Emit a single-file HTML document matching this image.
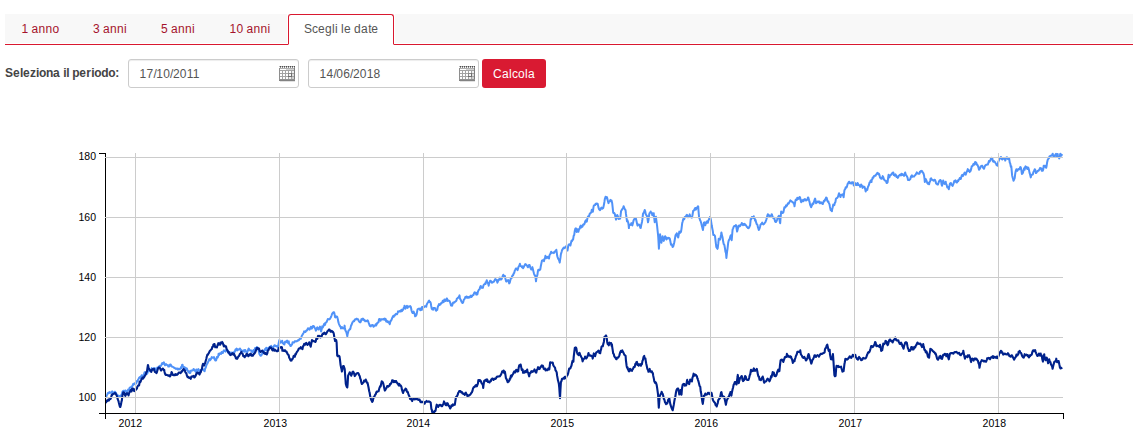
<!DOCTYPE html>
<html><head><meta charset="utf-8"><title>Grafico</title>
<style>
html,body{margin:0;padding:0;background:#fff;}
body{width:1138px;height:448px;position:relative;overflow:hidden;font-family:"Liberation Sans",sans-serif;font-size:12px;color:#555;}
i{font-style:normal;}
.tabs{position:absolute;left:5px;top:14px;width:1128px;height:29px;background:#f8f8f8;}
.tabline{position:absolute;left:5px;top:44px;width:1128px;height:1px;background:#d9182f;}
.tab{position:absolute;top:0;height:30px;line-height:30px;color:#a5132c;white-space:nowrap;}
.tab.active{box-sizing:border-box;width:106px;height:31px;background:#fff;border:1px solid #d9182f;border-bottom:none;border-radius:3px 3px 0 0;color:#555;padding:0 0 0 15px;line-height:28px;}
.tab.active:before{content:"";position:absolute;left:-2px;top:-1px;width:1px;height:30px;background:#fff;}
.tab.active:after{content:"";position:absolute;right:-2px;top:-1px;width:1px;height:30px;background:#fff;}
.lbl{position:absolute;left:5px;top:66px;font-weight:bold;color:#444;line-height:14px;white-space:nowrap;}
.inp{position:absolute;top:59px;height:27px;width:169px;border:1px solid #ccc;border-radius:3px;background:#fff;box-shadow:inset 0 1px 1px rgba(0,0,0,.075);}
.inp span{position:absolute;left:10.6px;top:7px;line-height:14px;color:#555;white-space:nowrap;}
.inp .cal{position:absolute;right:3px;top:6px;}
.btn{position:absolute;left:482px;top:59px;width:64px;height:29px;background:#d91a32;border-radius:3px;color:#fff;text-align:center;line-height:31px;white-space:nowrap;}
</style></head><body>
<div class="tabs">
<div class="tab" style="left:16.5px"><i style="letter-spacing:0.33px">1</i><i style="letter-spacing:-0.33px">&nbsp;</i><i style="letter-spacing:0.33px">a</i><i style="letter-spacing:0.33px">n</i><i style="letter-spacing:0.33px">n</i><i style="letter-spacing:0.33px">o</i></div>
<div class="tab" style="left:88px"><i style="letter-spacing:0.33px">3</i><i style="letter-spacing:-0.33px">&nbsp;</i><i style="letter-spacing:0.33px">a</i><i style="letter-spacing:0.33px">n</i><i style="letter-spacing:0.33px">n</i><i style="letter-spacing:0.33px">i</i></div>
<div class="tab" style="left:156px"><i style="letter-spacing:0.33px">5</i><i style="letter-spacing:-0.33px">&nbsp;</i><i style="letter-spacing:0.33px">a</i><i style="letter-spacing:0.33px">n</i><i style="letter-spacing:0.33px">n</i><i style="letter-spacing:0.33px">i</i></div>
<div class="tab" style="left:224.5px"><i style="letter-spacing:0.33px">1</i><i style="letter-spacing:0.33px">0</i><i style="letter-spacing:-0.33px">&nbsp;</i><i style="letter-spacing:0.33px">a</i><i style="letter-spacing:0.33px">n</i><i style="letter-spacing:0.33px">n</i><i style="letter-spacing:0.33px">i</i></div>
</div>
<div class="tabline"></div>
<div class="tab active" style="left:288px;top:14px">Sc<i style="letter-spacing:0.33px">e</i><i style="letter-spacing:0.33px">g</i><i style="letter-spacing:0.33px">l</i><i style="letter-spacing:0.33px">i</i><i style="letter-spacing:-0.33px">&nbsp;</i><i style="letter-spacing:0.33px">l</i><i style="letter-spacing:0.33px">e</i><i style="letter-spacing:-0.33px">&nbsp;</i><i style="letter-spacing:0.33px">d</i><i style="letter-spacing:0.33px">a</i><i style="letter-spacing:-0.33px">t</i><i style="letter-spacing:0.33px">e</i></div>
<div style="position:absolute;left:288px;top:44px;width:1px;height:1px;background:rgba(255,255,255,.5)"></div>
<div style="position:absolute;left:393px;top:44px;width:1px;height:1px;background:rgba(255,255,255,.5)"></div>
<div class="lbl">S<i style="letter-spacing:0.33px">e</i><i style="letter-spacing:-0.33px">l</i><i style="letter-spacing:0.33px">e</i>z<i style="letter-spacing:-0.33px">i</i><i style="letter-spacing:-0.33px">o</i><i style="letter-spacing:-0.33px">n</i><i style="letter-spacing:0.33px">a</i><i style="letter-spacing:-0.33px">&nbsp;</i><i style="letter-spacing:-0.33px">i</i><i style="letter-spacing:-0.33px">l</i><i style="letter-spacing:-0.33px">&nbsp;</i><i style="letter-spacing:-0.33px">p</i><i style="letter-spacing:0.33px">e</i><i style="letter-spacing:0.33px">r</i><i style="letter-spacing:-0.33px">i</i><i style="letter-spacing:-0.33px">o</i><i style="letter-spacing:-0.33px">d</i><i style="letter-spacing:-0.33px">o</i>:</div>
<div class="inp" style="left:128px"><span><i style="letter-spacing:0.21px">1</i><i style="letter-spacing:0.21px">7</i><i style="letter-spacing:-0.45px">/</i><i style="letter-spacing:0.21px">1</i><i style="letter-spacing:0.21px">0</i><i style="letter-spacing:-0.45px">/</i><i style="letter-spacing:0.21px">2</i><i style="letter-spacing:0.21px">0</i><i style="letter-spacing:0.21px">1</i><i style="letter-spacing:0.21px">1</i></span><svg class="cal" width="16" height="16" viewBox="0 0 16 16" shape-rendering="crispEdges"><rect x="0" y="1" width="16" height="13" fill="#a4a4a4"/><rect x="0" y="1" width="1" height="13" fill="#8e8e8e"/><rect x="15" y="1" width="1" height="13" fill="#7e7e7e"/><rect x="0" y="0" width="1" height="1" fill="#b8b8b8"/><rect x="1" y="0" width="1" height="1" fill="#505050"/><rect x="2" y="0" width="1" height="1" fill="#b8b8b8"/><rect x="3" y="0" width="1" height="1" fill="#505050"/><rect x="4" y="0" width="1" height="1" fill="#b8b8b8"/><rect x="5" y="0" width="1" height="1" fill="#505050"/><rect x="6" y="0" width="1" height="1" fill="#b8b8b8"/><rect x="7" y="0" width="1" height="1" fill="#505050"/><rect x="8" y="0" width="1" height="1" fill="#b8b8b8"/><rect x="9" y="0" width="1" height="1" fill="#505050"/><rect x="10" y="0" width="1" height="1" fill="#b8b8b8"/><rect x="11" y="0" width="1" height="1" fill="#505050"/><rect x="12" y="0" width="1" height="1" fill="#b8b8b8"/><rect x="13" y="0" width="1" height="1" fill="#505050"/><rect x="14" y="0" width="1" height="1" fill="#b8b8b8"/><rect x="15" y="0" width="1" height="1" fill="#505050"/><rect x="0" y="1" width="16" height="1" fill="#8c8c8c"/><rect x="0" y="1" width="1" height="1" fill="#fafafa"/><rect x="2" y="1" width="1" height="1" fill="#fafafa"/><rect x="4" y="1" width="1" height="1" fill="#fafafa"/><rect x="6" y="1" width="1" height="1" fill="#fafafa"/><rect x="8" y="1" width="1" height="1" fill="#fafafa"/><rect x="10" y="1" width="1" height="1" fill="#fafafa"/><rect x="12" y="1" width="1" height="1" fill="#fafafa"/><rect x="14" y="1" width="1" height="1" fill="#fafafa"/><rect x="1" y="2" width="14" height="1" fill="#b0b0b0"/><rect x="1" y="3" width="6" height="1" fill="#ffffff"/><rect x="7" y="3" width="8" height="1" fill="#d2d2d2"/><rect x="1" y="5" width="2" height="2" fill="#ffffff"/><rect x="4" y="5" width="2" height="2" fill="#ffffff"/><rect x="7" y="5" width="2" height="2" fill="#ffffff"/><rect x="10" y="5" width="2" height="2" fill="#ffffff"/><rect x="13" y="5" width="2" height="2" fill="#f0f0f0"/><rect x="1" y="8" width="2" height="2" fill="#ffffff"/><rect x="4" y="8" width="2" height="2" fill="#ffffff"/><rect x="7" y="8" width="2" height="2" fill="#ffffff"/><rect x="10" y="8" width="2" height="2" fill="#ffffff"/><rect x="13" y="8" width="2" height="2" fill="#dedede"/><rect x="1" y="11" width="2" height="2" fill="#ffffff"/><rect x="4" y="11" width="2" height="2" fill="#ffffff"/><rect x="7" y="11" width="2" height="2" fill="#ffffff"/><rect x="10" y="11" width="2" height="2" fill="#ededed"/><rect x="13" y="11" width="2" height="2" fill="#cfcfcf"/><rect x="9" y="7" width="4" height="4" fill="#8c8c8c"/><rect x="12" y="7" width="1" height="4" fill="#6f6f6f"/><rect x="9" y="10" width="4" height="1" fill="#6f6f6f"/><rect x="10" y="8" width="2" height="2" fill="#f6f6f6"/><rect x="0" y="13" width="16" height="1" fill="#909090"/><rect x="0" y="14" width="16" height="1" fill="#6c6c6c" opacity="0.85"/><rect x="1" y="15" width="15" height="1" fill="#9a9a9a" opacity="0.3"/></svg></div>
<div class="inp" style="left:308px"><span><i style="letter-spacing:0.21px">1</i><i style="letter-spacing:0.21px">4</i><i style="letter-spacing:-0.45px">/</i><i style="letter-spacing:0.21px">0</i><i style="letter-spacing:0.21px">6</i><i style="letter-spacing:-0.45px">/</i><i style="letter-spacing:0.21px">2</i><i style="letter-spacing:0.21px">0</i><i style="letter-spacing:0.21px">1</i><i style="letter-spacing:0.21px">8</i></span><svg class="cal" width="16" height="16" viewBox="0 0 16 16" shape-rendering="crispEdges"><rect x="0" y="1" width="16" height="13" fill="#a4a4a4"/><rect x="0" y="1" width="1" height="13" fill="#8e8e8e"/><rect x="15" y="1" width="1" height="13" fill="#7e7e7e"/><rect x="0" y="0" width="1" height="1" fill="#b8b8b8"/><rect x="1" y="0" width="1" height="1" fill="#505050"/><rect x="2" y="0" width="1" height="1" fill="#b8b8b8"/><rect x="3" y="0" width="1" height="1" fill="#505050"/><rect x="4" y="0" width="1" height="1" fill="#b8b8b8"/><rect x="5" y="0" width="1" height="1" fill="#505050"/><rect x="6" y="0" width="1" height="1" fill="#b8b8b8"/><rect x="7" y="0" width="1" height="1" fill="#505050"/><rect x="8" y="0" width="1" height="1" fill="#b8b8b8"/><rect x="9" y="0" width="1" height="1" fill="#505050"/><rect x="10" y="0" width="1" height="1" fill="#b8b8b8"/><rect x="11" y="0" width="1" height="1" fill="#505050"/><rect x="12" y="0" width="1" height="1" fill="#b8b8b8"/><rect x="13" y="0" width="1" height="1" fill="#505050"/><rect x="14" y="0" width="1" height="1" fill="#b8b8b8"/><rect x="15" y="0" width="1" height="1" fill="#505050"/><rect x="0" y="1" width="16" height="1" fill="#8c8c8c"/><rect x="0" y="1" width="1" height="1" fill="#fafafa"/><rect x="2" y="1" width="1" height="1" fill="#fafafa"/><rect x="4" y="1" width="1" height="1" fill="#fafafa"/><rect x="6" y="1" width="1" height="1" fill="#fafafa"/><rect x="8" y="1" width="1" height="1" fill="#fafafa"/><rect x="10" y="1" width="1" height="1" fill="#fafafa"/><rect x="12" y="1" width="1" height="1" fill="#fafafa"/><rect x="14" y="1" width="1" height="1" fill="#fafafa"/><rect x="1" y="2" width="14" height="1" fill="#b0b0b0"/><rect x="1" y="3" width="6" height="1" fill="#ffffff"/><rect x="7" y="3" width="8" height="1" fill="#d2d2d2"/><rect x="1" y="5" width="2" height="2" fill="#ffffff"/><rect x="4" y="5" width="2" height="2" fill="#ffffff"/><rect x="7" y="5" width="2" height="2" fill="#ffffff"/><rect x="10" y="5" width="2" height="2" fill="#ffffff"/><rect x="13" y="5" width="2" height="2" fill="#f0f0f0"/><rect x="1" y="8" width="2" height="2" fill="#ffffff"/><rect x="4" y="8" width="2" height="2" fill="#ffffff"/><rect x="7" y="8" width="2" height="2" fill="#ffffff"/><rect x="10" y="8" width="2" height="2" fill="#ffffff"/><rect x="13" y="8" width="2" height="2" fill="#dedede"/><rect x="1" y="11" width="2" height="2" fill="#ffffff"/><rect x="4" y="11" width="2" height="2" fill="#ffffff"/><rect x="7" y="11" width="2" height="2" fill="#ffffff"/><rect x="10" y="11" width="2" height="2" fill="#ededed"/><rect x="13" y="11" width="2" height="2" fill="#cfcfcf"/><rect x="9" y="7" width="4" height="4" fill="#8c8c8c"/><rect x="12" y="7" width="1" height="4" fill="#6f6f6f"/><rect x="9" y="10" width="4" height="1" fill="#6f6f6f"/><rect x="10" y="8" width="2" height="2" fill="#f6f6f6"/><rect x="0" y="13" width="16" height="1" fill="#909090"/><rect x="0" y="14" width="16" height="1" fill="#6c6c6c" opacity="0.85"/><rect x="1" y="15" width="15" height="1" fill="#9a9a9a" opacity="0.3"/></svg></div>
<div class="btn"><i style="letter-spacing:0.33px">C</i><i style="letter-spacing:0.33px">a</i><i style="letter-spacing:0.33px">l</i>c<i style="letter-spacing:0.33px">o</i><i style="letter-spacing:0.33px">l</i><i style="letter-spacing:0.33px">a</i></div>
<svg width="1138" height="448" viewBox="0 0 1138 448" style="position:absolute;left:0;top:0">
<path d="M105.60,397.40L106.15,396.81L106.70,395.53L107.30,394.34L107.80,393.13L108.35,392.73L108.90,393.10L109.50,392.16L110.00,392.78L110.55,392.56L111.20,392.78L111.65,392.70L112.20,391.37L112.75,392.87L113.30,393.21L114.00,393.44L114.40,392.02L114.95,391.69L115.50,392.39L116.20,393.21L116.60,394.57L117.30,395.65L117.70,396.14L118.25,395.52L118.80,396.08L119.35,396.40L120.10,395.82L120.45,396.74L121.00,395.43L121.55,394.81L122.30,392.25L122.65,391.40L123.20,390.99L123.75,390.70L124.00,391.09L124.30,391.14L124.85,390.81L125.40,390.45L125.95,390.80L126.50,392.36L126.80,391.43L127.05,391.60L127.60,391.34L128.15,389.45L128.70,389.59L129.25,390.22L129.60,387.79L130.35,387.59L130.90,387.39L131.45,386.43L131.80,386.92L132.55,385.78L133.10,383.94L133.50,384.74L134.20,383.68L134.60,383.21L135.30,383.95L135.85,383.50L136.30,383.26L136.95,381.05L137.50,381.21L138.05,379.79L138.50,379.02L139.15,377.73L139.70,377.18L140.25,376.96L140.70,377.99L141.35,375.71L141.90,375.18L142.45,376.10L143.00,377.16L143.55,376.38L144.10,373.88L144.60,372.21L145.20,374.14L145.75,374.10L146.30,373.90L146.85,373.92L147.40,373.10L148.00,371.05L148.50,370.69L149.05,370.52L149.60,371.15L150.20,370.44L150.70,370.09L151.25,369.89L151.80,368.14L152.50,369.53L152.90,369.95L153.45,369.88L154.00,368.08L154.70,368.60L155.10,369.93L155.65,368.53L156.40,369.43L156.75,369.95L157.30,367.64L158.00,368.13L158.40,367.56L158.95,366.45L159.70,365.89L160.00,366.79L160.60,365.76L161.15,365.75L161.70,363.95L162.20,363.13L162.80,363.94L163.35,363.34L163.90,362.33L164.45,363.96L165.00,365.28L165.55,364.66L166.10,364.10L166.65,364.77L167.20,365.07L167.75,365.14L168.30,366.51L168.90,365.26L169.40,366.36L169.95,364.75L170.50,364.46L171.20,365.28L171.60,366.32L172.15,366.80L172.70,366.86L173.40,367.12L173.80,367.33L174.35,368.04L174.90,368.01L175.60,368.72L176.00,368.90L176.55,368.43L177.10,368.74L177.65,368.61L177.90,369.63L178.20,369.07L178.75,368.78L179.50,369.31L179.85,368.91L180.40,368.77L180.95,367.19L181.20,367.08L181.50,368.14L182.05,364.99L182.60,364.81L182.90,365.72L183.15,366.42L183.70,366.94L184.25,366.93L184.80,368.05L185.10,368.25L185.35,367.72L185.90,369.91L186.45,369.25L186.80,368.39L187.55,370.11L188.10,371.27L188.50,372.28L189.20,371.39L189.60,373.00L190.30,372.99L190.85,370.70L191.20,370.39L191.95,370.56L192.50,370.25L192.90,370.42L193.60,368.92L194.15,369.71L194.60,370.26L195.25,371.19L195.80,371.96L196.35,369.49L196.80,371.53L197.45,369.87L198.00,370.68L198.50,369.14L199.10,370.14L199.65,371.35L200.20,370.87L200.75,370.35L201.30,370.27L201.85,369.39L202.40,368.55L202.95,370.02L203.50,370.41L204.10,369.80L204.60,371.23L205.20,368.38L205.70,367.82L206.25,365.75L206.90,364.11L207.35,363.64L207.90,362.30L208.50,361.31L209.00,359.64L209.55,358.97L210.10,360.23L210.80,359.36L211.20,358.41L211.75,357.07L212.50,357.74L212.85,357.66L213.60,357.55L213.95,357.06L214.50,358.93L215.20,360.32L215.60,360.55L216.15,360.31L216.90,357.08L217.25,357.94L217.80,357.26L218.35,355.68L218.60,353.71L218.90,355.37L219.45,354.38L220.00,353.29L220.55,353.31L220.80,353.26L221.10,353.94L221.65,351.97L222.20,352.65L222.50,353.07L222.75,353.09L223.30,351.53L223.85,350.31L224.40,350.94L224.70,350.40L224.95,350.42L225.50,351.62L226.05,350.95L226.60,349.36L227.00,350.33L227.70,350.25L228.25,352.55L228.60,353.15L229.35,352.37L229.90,352.48L230.45,353.08L231.00,352.65L231.40,353.39L232.10,352.45L232.65,352.87L233.20,353.26L233.70,353.41L234.30,351.49L234.85,351.82L235.40,349.69L235.90,349.38L236.50,348.56L237.05,350.48L237.60,349.34L238.10,349.78L238.70,349.50L239.25,349.32L240.00,348.52L240.35,349.20L240.90,350.84L241.45,350.30L242.20,350.77L242.55,351.38L243.10,350.97L243.65,350.26L243.90,350.58L244.20,351.75L244.75,349.96L245.30,349.99L245.60,351.17L245.85,351.62L246.40,351.49L246.95,352.27L247.30,352.17L248.05,350.01L248.60,348.58L248.90,348.62L249.15,350.20L249.70,350.10L250.25,350.17L250.60,350.45L251.35,350.56L251.90,351.93L252.30,351.81L253.00,352.13L253.55,349.92L254.00,350.91L254.65,349.75L255.20,347.90L255.60,348.96L256.30,348.63L256.85,346.98L257.40,347.34L257.90,348.27L258.50,349.95L259.05,352.53L259.50,354.21L260.15,355.25L260.60,355.71L261.25,355.50L261.80,354.48L262.30,353.56L262.90,350.79L263.45,351.62L264.00,351.75L264.55,350.13L265.10,348.98L265.70,349.85L266.20,347.81L266.75,348.88L267.30,350.84L267.85,348.24L268.40,348.08L269.00,348.39L269.50,346.94L270.05,346.70L270.70,346.58L271.15,345.91L271.70,346.80L272.40,348.05L272.80,348.15L273.35,347.10L274.00,346.13L274.45,345.28L275.00,345.36L275.70,346.18L276.10,346.34L276.65,346.10L277.40,346.57L277.75,347.71L278.30,345.25L278.80,342.79L279.40,339.94L279.95,341.21L280.20,341.53L280.50,342.68L281.05,342.30L281.60,341.92L281.90,342.27L282.15,340.77L282.70,342.97L283.25,343.59L283.50,343.10L283.80,344.14L284.35,344.56L284.90,342.04L285.20,341.63L285.45,342.16L286.00,342.03L286.55,341.37L287.10,340.53L287.40,342.50L287.65,342.68L288.20,341.54L288.75,341.38L289.10,343.77L289.85,344.70L290.40,345.93L290.95,345.96L291.30,344.87L292.05,344.51L292.60,342.30L293.00,342.39L293.70,342.37L294.25,342.49L294.70,341.34L295.35,341.22L295.90,341.45L296.45,341.30L296.90,341.31L297.55,340.76L298.10,340.01L298.65,340.42L299.20,339.83L299.75,338.85L300.30,338.53L300.80,338.77L301.40,336.98L301.90,335.66L302.50,334.67L303.05,333.91L303.60,332.85L304.15,331.39L304.70,331.78L305.30,331.98L305.80,331.48L306.35,330.59L307.00,330.46L307.45,329.38L308.00,328.20L308.55,329.15L309.20,328.62L309.65,329.61L310.20,328.48L310.90,326.77L311.30,327.02L311.85,328.63L312.50,327.24L312.95,326.09L313.50,326.01L314.20,326.76L314.60,327.75L315.15,328.54L315.90,330.71L316.25,329.77L316.80,328.07L317.35,327.24L317.60,327.64L317.90,328.19L318.45,329.56L318.70,328.61L319.00,328.22L319.55,327.96L320.00,326.64L320.65,329.84L321.10,331.42L321.75,328.97L322.20,326.37L322.85,327.33L323.40,326.27L323.90,324.41L324.50,323.61L325.05,324.87L325.60,322.75L326.15,322.40L326.70,321.90L327.30,320.46L327.80,319.01L328.35,319.26L328.90,319.23L329.45,319.38L330.00,318.81L330.60,317.64L331.10,316.76L331.65,315.24L332.10,313.79L332.75,313.00L333.30,312.21L334.00,312.17L334.40,313.33L335.10,317.21L335.50,317.51L336.05,316.36L336.70,316.56L337.15,316.77L337.90,319.47L338.25,321.62L338.80,323.57L339.50,325.21L339.90,325.98L340.60,326.79L341.00,328.52L341.55,327.76L341.80,327.88L342.10,327.11L342.65,328.26L343.20,328.15L343.75,328.58L344.30,328.13L344.60,325.63L344.85,327.43L345.40,330.56L345.90,331.19L346.50,332.75L347.05,335.08L347.30,336.43L347.60,334.33L348.15,332.19L348.50,330.72L349.25,329.87L349.80,329.12L350.10,329.27L350.35,328.84L350.90,326.07L351.45,325.12L351.80,324.11L352.55,322.23L353.10,321.65L353.50,321.04L354.20,321.27L354.75,319.68L355.20,319.29L355.85,319.48L356.40,319.08L356.80,318.66L357.50,319.29L358.05,319.18L358.50,320.41L359.15,321.54L359.70,322.14L360.20,322.42L360.80,321.79L361.35,319.20L361.90,319.11L362.45,319.73L363.00,318.54L363.50,319.19L364.10,320.32L364.65,320.02L365.20,321.25L365.75,320.95L366.30,321.15L366.85,321.05L367.40,320.26L367.95,320.78L368.50,322.31L369.10,323.84L369.60,325.32L370.15,326.12L370.80,326.40L371.25,325.35L371.80,325.47L372.50,324.91L372.90,325.17L373.60,326.82L374.00,326.22L374.55,325.89L375.20,325.45L375.65,324.33L376.20,325.48L376.90,323.25L377.30,323.45L377.85,322.37L378.60,322.19L378.95,319.31L379.50,318.97L380.05,319.14L380.30,319.39L380.60,320.68L381.15,319.32L381.90,319.18L382.25,319.15L382.80,319.55L383.35,319.59L383.60,319.15L383.90,319.50L384.45,318.54L385.00,319.97L385.55,318.91L385.80,319.50L386.10,321.39L386.65,320.74L387.20,321.05L387.50,322.13L387.75,321.78L388.30,321.48L388.85,322.51L389.40,323.46L389.80,324.09L390.50,320.87L391.05,320.69L391.40,320.07L392.15,318.03L392.70,317.13L393.10,316.02L393.80,316.75L394.35,315.21L394.80,315.54L395.45,314.47L396.00,313.73L396.50,314.33L397.10,314.25L397.65,312.73L398.10,311.33L398.75,311.80L399.30,311.14L400.00,310.88L400.40,311.57L400.95,311.25L401.50,309.66L402.05,311.15L402.60,309.84L403.00,309.90L403.70,307.96L404.25,307.33L404.50,305.75L404.80,308.07L405.35,308.71L406.00,307.15L406.45,306.31L407.00,305.93L407.50,307.90L408.10,306.96L408.65,306.70L409.00,306.32L409.75,306.65L410.30,306.12L410.60,306.81L410.85,306.94L411.60,310.73L411.95,311.79L412.60,313.07L413.05,312.43L413.60,311.51L414.15,313.18L414.70,313.99L415.10,316.23L415.80,315.90L416.35,315.02L416.60,314.43L416.90,312.73L417.60,309.28L418.00,309.05L418.55,308.89L419.10,308.49L419.65,308.85L420.20,310.24L420.60,308.69L421.30,308.18L421.85,309.88L422.10,306.94L422.40,306.88L422.95,307.23L423.60,307.18L424.05,307.14L424.60,306.37L425.10,306.35L425.70,306.23L426.25,306.72L426.60,304.90L427.35,303.27L428.10,302.22L428.45,301.34L429.10,300.50L429.55,301.97L430.10,301.77L430.70,302.92L431.20,306.02L431.70,308.56L432.30,309.34L433.00,309.71L433.40,308.08L433.95,308.03L434.20,308.31L434.50,307.93L435.20,308.41L435.60,310.14L436.20,310.72L436.70,310.14L437.25,309.84L437.70,307.21L438.35,305.75L439.00,304.04L439.45,305.05L440.20,304.23L440.55,304.38L441.10,303.10L441.70,303.02L442.20,302.56L442.75,300.71L443.20,302.21L443.85,301.84L444.40,299.40L444.70,300.31L444.95,300.20L445.70,300.93L446.05,300.59L446.60,298.57L447.00,298.60L447.70,300.92L448.20,300.50L448.80,300.60L449.35,300.83L449.70,301.23L450.45,303.31L451.00,305.41L451.30,305.34L451.55,304.79L452.10,305.63L452.80,303.35L453.20,302.42L453.75,302.72L454.30,302.60L454.85,301.79L455.30,301.52L455.95,301.14L456.50,300.33L456.80,298.67L457.05,298.79L457.60,297.96L458.30,297.74L458.70,296.90L459.25,295.94L459.50,295.31L459.80,297.21L460.35,299.50L460.80,299.77L461.45,301.81L462.00,302.08L462.30,303.04L462.55,303.06L463.10,302.56L463.80,299.78L464.20,299.21L464.75,298.80L465.30,297.03L465.85,297.19L466.30,296.47L466.95,297.81L467.50,297.47L467.80,296.83L468.05,297.76L468.60,297.79L469.30,296.68L469.70,297.37L470.25,296.48L470.90,295.64L471.35,296.97L471.90,296.49L472.45,295.60L473.00,295.07L473.40,295.12L474.10,293.20L474.60,292.35L475.20,292.39L475.90,293.69L476.30,294.61L476.85,292.90L477.40,294.35L477.95,291.59L478.50,290.39L478.90,289.65L479.60,289.37L480.00,287.36L480.70,285.96L481.25,287.39L482.00,287.84L482.35,287.28L482.90,287.77L483.40,285.52L484.00,284.51L484.55,284.33L485.10,283.48L485.40,284.05L485.65,282.25L486.20,282.41L486.75,280.27L487.40,282.85L487.85,283.04L488.40,284.29L488.70,285.71L488.95,284.05L489.50,282.39L490.10,280.84L490.60,280.79L491.15,281.20L491.70,282.54L492.10,282.71L492.80,282.31L493.40,281.80L493.90,281.73L494.45,280.77L495.00,279.36L495.40,279.13L496.10,279.83L496.65,279.82L497.40,282.70L497.75,281.95L498.30,279.92L498.85,280.14L499.40,279.08L499.95,277.60L500.50,279.46L501.05,279.15L501.40,279.46L502.15,277.60L502.80,275.95L503.25,274.75L503.80,276.23L504.35,276.04L504.80,275.73L505.45,278.75L506.10,281.33L506.55,281.56L507.10,280.69L507.50,280.54L508.20,280.05L508.75,281.63L509.20,283.40L509.85,282.40L510.40,279.85L510.80,278.54L511.50,278.33L512.05,276.20L512.80,275.11L513.15,275.32L513.70,273.37L514.20,273.01L514.80,270.56L515.35,269.71L515.90,268.48L516.45,268.41L517.00,269.04L517.55,270.10L518.20,268.04L518.65,266.58L519.20,266.11L519.90,263.80L520.30,265.13L520.85,266.16L521.50,266.46L521.95,267.31L522.50,266.42L523.05,268.19L523.60,267.41L524.15,266.31L524.70,265.18L525.25,264.07L525.60,264.25L526.35,265.03L526.90,265.33L527.60,266.83L528.00,267.26L528.55,265.68L529.10,264.91L529.60,264.88L530.20,267.33L530.70,268.44L531.30,269.56L532.00,268.72L532.40,267.14L532.95,269.43L533.60,272.12L534.05,273.84L534.60,275.22L534.90,275.27L535.15,275.66L535.70,278.94L536.00,281.31L536.25,279.07L536.80,276.54L537.40,274.84L537.90,271.01L538.30,269.75L539.00,269.67L539.55,270.19L540.30,269.32L540.65,267.07L541.20,264.32L541.90,260.86L542.30,260.23L542.85,260.22L543.40,260.51L543.70,260.86L543.95,261.16L544.50,258.85L545.05,257.89L545.40,255.83L546.15,258.21L546.70,256.94L547.00,256.97L547.25,257.62L547.80,256.76L548.35,258.08L549.00,258.49L549.45,255.39L550.00,254.38L550.40,253.90L551.10,251.74L551.65,252.88L552.40,252.63L552.75,252.73L553.30,252.61L553.85,253.11L554.40,252.03L555.00,251.84L555.50,250.70L556.05,250.90L556.30,249.77L556.60,251.44L557.15,255.60L557.50,256.86L558.25,258.87L558.70,259.49L559.35,261.05L559.70,262.64L560.45,257.70L560.90,254.15L561.55,252.11L562.10,249.95L562.50,249.57L563.20,248.25L563.75,247.53L564.20,248.23L564.85,247.63L565.40,247.01L565.90,246.42L566.50,247.78L567.05,249.61L567.50,250.58L568.15,246.29L568.70,244.45L569.25,244.81L569.80,244.22L570.40,245.54L570.90,243.18L571.45,240.88L571.70,240.70L572.00,241.17L572.55,239.54L573.10,239.59L573.65,235.84L574.20,235.04L574.75,230.96L575.40,228.56L575.85,228.31L576.40,230.08L576.70,231.96L576.95,229.09L577.50,230.13L578.05,231.56L578.40,231.77L579.15,228.73L579.70,228.80L580.10,226.56L580.80,225.62L581.35,227.45L581.80,226.41L582.45,226.70L583.00,224.85L583.40,224.31L584.10,224.55L584.65,223.47L585.10,221.70L585.75,220.36L586.30,221.73L586.80,221.57L587.40,218.22L588.10,216.41L588.50,216.26L589.05,216.13L589.80,213.64L590.15,213.37L590.70,212.97L591.00,212.40L591.25,212.48L591.80,209.77L592.35,210.62L592.60,211.13L592.90,211.64L593.45,207.34L593.80,205.65L594.55,204.99L595.10,205.07L595.65,203.69L596.00,204.22L596.75,203.45L597.30,204.11L597.70,203.84L598.40,207.12L598.95,208.91L599.30,209.52L600.05,210.11L600.60,209.30L601.15,207.83L601.50,207.65L602.25,208.71L602.80,207.74L603.20,208.15L603.90,204.69L604.45,201.72L604.80,199.13L605.55,196.81L606.10,198.21L606.65,197.64L606.90,197.14L607.20,198.04L607.75,200.54L608.50,203.13L608.85,202.02L609.40,201.22L609.95,200.52L610.20,200.18L610.50,199.92L611.05,201.38L611.60,200.61L611.90,201.86L612.15,202.92L612.70,207.87L613.20,212.74L613.80,213.13L614.35,213.09L614.90,214.21L615.45,217.40L616.10,219.63L616.55,217.63L617.20,214.91L617.65,215.74L618.20,217.37L618.60,218.92L619.30,218.81L619.85,218.72L620.20,218.37L621.10,210.95L621.50,210.38L622.05,209.44L622.60,208.61L623.15,207.95L623.60,206.22L624.25,207.94L624.80,209.31L625.35,209.66L625.60,210.59L625.90,213.43L626.60,218.37L627.00,221.35L627.55,220.31L627.80,221.95L628.10,221.93L628.65,225.40L628.90,228.05L629.20,224.54L629.75,224.84L630.30,224.88L630.60,224.17L630.85,224.79L631.40,223.12L631.95,225.03L632.30,225.41L633.05,222.67L633.60,220.27L634.00,219.64L634.70,218.42L635.00,218.48L635.25,218.53L635.80,218.13L636.30,220.24L636.90,222.92L637.50,225.64L638.00,224.40L638.55,224.42L639.20,224.70L639.65,225.49L640.40,227.82L640.75,227.91L641.30,224.85L642.00,221.95L642.40,219.21L643.00,213.79L643.50,212.97L644.05,212.05L644.70,209.99L645.15,211.06L645.70,213.98L646.40,215.38L646.80,215.61L647.35,217.58L648.00,222.32L648.45,220.33L649.20,214.36L649.55,213.20L650.10,212.88L650.65,211.51L650.90,212.49L651.20,212.52L651.75,212.66L652.30,215.22L652.60,214.92L652.85,214.82L653.40,213.89L653.70,213.17L653.95,215.86L654.70,222.14L655.05,219.83L655.60,217.25L655.90,216.68L656.15,218.79L656.70,222.97L657.10,225.79L657.80,232.72L658.10,235.32L658.35,239.05L658.90,248.69L659.45,241.01L660.10,234.33L660.55,237.82L661.10,241.38L661.40,242.76L661.65,241.19L662.20,238.90L662.60,236.24L663.30,239.09L663.80,240.86L664.40,238.24L665.10,236.22L665.50,236.63L666.05,238.54L666.40,239.50L667.15,237.86L667.70,238.47L668.10,238.42L668.80,237.76L669.35,238.09L669.80,238.80L670.45,241.83L671.00,244.75L671.55,244.16L672.10,245.18L672.60,247.01L673.20,246.53L673.75,244.53L674.30,242.22L674.85,239.20L675.50,235.35L675.95,234.26L676.50,234.90L676.80,233.32L677.05,233.90L677.60,236.53L678.20,237.45L678.70,234.85L679.30,231.61L679.80,231.80L680.35,232.61L681.00,231.92L681.45,229.12L682.20,223.12L682.55,222.04L683.10,219.74L683.50,218.74L684.20,219.16L684.75,217.12L685.20,217.31L685.85,216.72L686.40,215.43L686.90,214.73L687.50,215.86L688.05,217.34L688.50,216.95L689.15,216.21L689.70,214.39L690.20,216.21L690.80,216.71L691.35,217.46L691.90,217.61L692.45,215.25L693.20,210.77L693.55,210.75L694.10,210.21L694.65,209.00L694.90,208.65L695.20,207.99L695.75,209.68L696.30,208.88L696.60,207.77L696.85,208.22L697.40,207.30L697.95,206.31L698.20,206.37L698.50,210.80L699.10,217.51L699.60,218.55L700.15,220.52L700.60,220.94L701.25,223.18L701.90,226.06L702.35,227.76L702.90,230.05L703.45,226.51L703.90,222.72L704.55,222.37L705.30,225.27L705.65,223.91L706.20,223.24L706.60,221.40L707.30,221.40L707.85,222.76L708.30,220.68L708.95,219.33L709.50,218.32L709.90,217.02L710.60,218.55L711.10,221.30L711.70,225.30L712.30,228.47L712.80,230.92L713.30,234.97L713.90,234.79L714.45,235.21L715.00,236.07L715.55,240.94L716.30,247.02L716.65,247.57L717.20,248.28L717.50,248.85L717.75,247.89L718.30,243.42L718.70,238.82L719.40,239.39L720.00,239.67L720.50,237.40L721.05,234.63L721.40,232.39L722.15,236.12L722.50,237.07L723.25,242.04L723.70,244.05L724.35,244.89L725.00,248.50L725.45,251.61L726.00,253.17L726.40,257.90L727.10,251.49L727.50,248.78L728.20,242.73L728.70,240.51L729.30,239.60L729.70,238.80L730.40,236.28L730.90,235.17L731.70,240.18L732.05,235.89L732.60,229.53L733.15,228.35L733.70,226.78L734.20,226.00L734.80,226.02L735.35,225.76L735.90,225.03L736.45,227.52L737.10,231.54L737.55,230.03L738.10,227.50L738.40,225.88L738.65,226.99L739.20,225.52L739.75,225.75L740.10,226.13L740.85,224.56L741.40,224.55L741.80,222.90L742.50,224.75L743.05,225.09L743.40,224.03L744.15,224.87L744.70,223.86L745.10,225.04L745.80,225.08L746.35,225.93L746.80,226.94L747.45,227.25L748.00,228.12L748.50,228.13L749.10,227.60L749.65,226.19L750.10,225.31L750.75,218.92L751.00,219.47L751.30,219.07L751.85,217.09L752.60,217.21L752.95,217.58L753.50,217.88L753.80,216.30L754.05,218.15L754.60,218.20L755.15,220.66L755.50,219.85L756.25,222.89L756.80,224.27L757.35,224.61L757.90,227.14L758.45,228.63L758.80,229.96L759.55,228.55L760.10,226.56L760.50,224.74L761.20,224.04L761.75,223.33L762.20,222.60L762.85,223.95L763.40,224.39L763.80,224.20L764.50,223.36L765.05,222.39L765.50,221.93L766.15,220.09L766.90,217.73L767.25,216.07L767.80,214.20L768.50,214.95L768.90,215.20L769.45,216.64L770.20,215.90L770.55,215.89L771.10,215.72L771.65,214.21L771.90,214.31L772.20,215.69L772.75,216.91L773.50,218.31L773.85,217.71L774.40,218.34L774.90,220.91L775.50,221.93L776.05,221.90L776.60,220.96L777.15,219.59L777.70,217.50L778.25,217.05L778.90,215.77L779.35,218.71L779.90,222.40L780.20,223.31L780.45,219.10L781.20,211.44L781.55,212.12L782.10,212.19L782.65,213.02L783.30,212.41L783.75,210.43L784.40,207.33L784.85,207.27L785.40,207.44L786.10,205.37L786.50,206.12L787.05,205.37L787.80,203.69L788.15,203.18L788.70,203.68L789.40,202.13L789.80,201.53L790.35,200.37L790.90,200.90L791.60,201.44L792.00,201.66L792.55,202.16L793.30,202.55L793.65,203.64L794.20,204.03L794.50,206.33L794.75,204.61L795.30,201.38L795.60,200.03L795.85,199.61L796.40,200.04L796.95,199.82L797.30,197.70L798.05,198.67L798.60,198.92L799.00,197.85L799.70,196.97L800.00,197.23L800.25,198.28L800.80,201.04L801.20,202.22L801.90,200.40L802.45,201.25L803.10,199.91L803.55,201.13L804.10,199.71L804.65,199.36L804.90,199.08L805.20,199.18L805.75,200.45L806.30,200.45L806.80,200.16L807.40,199.43L807.95,197.50L808.30,197.47L809.05,200.36L809.60,202.13L810.15,204.94L810.70,206.15L811.10,207.28L811.80,205.71L812.50,203.59L812.90,204.14L813.45,203.72L813.80,202.25L814.70,199.43L815.10,198.54L815.65,201.18L816.00,203.18L816.75,201.94L817.40,201.46L817.85,202.18L818.40,202.31L819.00,201.34L819.50,202.63L820.05,203.32L820.60,202.25L821.15,202.89L821.70,202.60L822.30,203.77L822.80,203.99L823.35,202.40L823.90,200.71L824.45,201.28L825.20,199.20L825.55,199.76L826.10,197.51L826.80,198.10L827.20,200.15L827.75,201.73L828.20,201.19L828.85,202.86L829.50,204.33L829.95,206.90L830.70,210.24L831.05,210.16L831.60,209.68L831.90,211.25L832.15,209.45L832.70,207.26L833.20,204.63L833.80,205.38L834.35,205.13L834.60,203.82L834.90,202.87L835.45,201.93L835.90,198.90L836.55,198.14L837.10,197.94L837.50,197.60L838.20,196.30L838.75,194.11L839.00,193.31L839.30,194.39L839.85,195.05L840.50,197.08L840.95,194.79L841.50,195.17L842.00,194.78L842.60,194.31L843.15,195.54L843.60,197.29L844.40,190.36L844.80,189.58L845.35,188.79L845.70,187.18L846.45,187.49L846.90,186.68L847.55,184.14L847.90,183.61L848.65,182.14L849.40,181.69L849.75,183.22L850.30,183.06L851.00,183.45L851.40,183.52L851.95,182.26L852.60,182.39L853.05,182.30L853.80,185.52L854.15,184.44L854.70,183.17L855.00,184.48L855.25,183.24L855.80,184.95L856.50,184.92L856.90,185.09L857.45,183.00L858.00,183.62L858.55,185.04L859.10,184.91L859.60,185.34L860.20,186.88L860.75,185.55L861.10,184.56L861.85,185.66L862.60,187.86L862.95,187.45L863.50,186.50L864.10,186.68L864.60,187.07L865.15,188.95L865.70,191.45L866.25,189.23L866.80,189.56L867.30,189.91L867.90,187.13L868.45,185.94L868.80,185.38L869.55,182.41L870.00,182.52L870.65,180.53L871.20,181.21L871.50,182.04L871.75,179.76L872.30,179.20L872.70,177.47L873.40,177.72L873.90,176.15L874.50,175.82L875.05,175.67L875.50,175.78L876.15,174.55L876.70,174.04L877.40,172.88L877.80,173.74L878.35,173.59L878.60,174.53L878.90,173.60L879.45,174.86L880.00,177.52L880.55,178.27L881.20,178.71L881.65,178.85L882.20,177.48L882.70,176.10L883.30,177.23L883.85,179.14L884.30,179.85L884.95,180.52L885.50,180.62L885.90,180.85L886.60,182.96L887.15,183.04L887.60,182.33L888.25,176.89L888.60,174.75L889.35,177.38L890.10,175.39L890.45,175.18L891.00,174.82L891.70,173.81L892.10,173.59L892.65,172.61L893.30,172.42L893.75,174.97L894.30,174.47L894.70,175.74L895.40,174.40L895.95,175.12L896.20,175.79L896.50,176.91L897.05,176.19L897.80,177.85L898.15,177.45L898.70,175.83L899.40,175.41L899.80,174.76L900.35,174.77L900.90,175.50L901.45,173.66L902.00,174.97L902.30,174.76L902.55,174.24L903.10,174.67L903.65,175.58L903.90,175.00L904.20,175.71L904.75,173.59L905.20,172.42L905.85,175.00L906.40,175.36L906.80,176.11L907.50,177.41L908.00,180.00L908.60,179.87L909.15,180.12L909.50,179.73L910.25,179.15L910.90,176.86L911.35,176.06L911.90,175.25L912.50,176.79L913.00,176.44L913.55,176.44L913.80,176.57L914.10,176.57L914.65,175.45L915.40,175.16L915.75,174.48L916.30,173.54L916.80,172.35L917.40,173.24L917.95,173.31L918.30,173.83L919.05,173.78L919.60,173.72L919.90,171.77L920.15,171.99L920.70,171.17L921.10,171.76L921.80,170.93L922.35,171.52L922.70,172.16L923.45,173.35L924.00,175.19L924.55,179.08L924.80,181.98L925.10,180.21L925.65,179.00L926.40,180.43L926.75,181.45L927.30,182.95L927.60,183.47L927.85,183.76L928.40,182.77L929.10,184.25L929.50,182.32L930.05,181.53L930.30,180.39L930.60,178.60L931.15,178.31L931.80,179.84L932.25,179.85L932.80,179.96L933.40,180.78L933.90,180.22L934.45,179.80L935.00,180.00L935.55,181.31L936.10,183.54L936.50,183.64L937.20,184.44L937.75,184.52L938.00,184.45L938.30,183.53L938.85,181.84L939.60,180.42L939.95,180.28L940.50,180.00L940.80,180.46L941.05,181.03L941.60,184.60L942.00,185.76L942.70,183.12L943.20,180.44L943.80,182.50L944.50,183.89L944.90,183.21L945.45,182.73L945.70,181.69L946.00,183.83L946.55,184.60L947.30,187.48L947.65,186.82L948.20,187.21L948.80,189.22L949.30,186.55L950.00,183.50L950.40,183.19L950.95,183.07L951.50,184.74L952.05,185.09L952.60,185.88L953.10,184.72L953.70,183.15L954.25,181.13L954.70,181.21L955.35,180.39L956.10,182.02L956.45,182.48L957.00,182.54L957.60,180.47L958.10,181.25L958.65,180.03L959.20,179.44L959.75,178.02L960.30,178.82L960.80,178.99L961.40,176.68L961.95,175.20L962.30,174.75L963.05,175.91L963.70,174.66L964.15,173.61L964.70,172.52L965.00,173.03L965.25,174.24L965.80,174.61L966.30,172.76L966.90,171.33L967.45,170.58L967.80,169.10L968.55,171.09L969.20,170.43L969.65,172.11L970.20,170.96L970.60,171.06L971.30,168.59L971.70,166.14L972.40,166.24L973.00,165.23L973.50,163.90L974.05,164.50L974.50,164.69L975.15,161.97L975.70,163.40L976.20,162.51L976.80,164.74L977.30,164.59L977.90,165.97L978.40,167.31L979.00,169.70L979.50,169.22L980.10,168.26L980.60,166.64L981.20,166.14L981.70,165.67L982.30,165.82L982.90,167.61L983.40,168.11L983.95,168.74L984.20,168.22L984.50,167.16L985.05,165.78L985.60,165.20L986.15,164.73L986.70,164.77L987.10,164.40L987.80,164.53L988.40,162.94L988.90,160.93L989.45,161.61L989.80,161.15L990.55,159.79L990.90,158.61L991.65,157.73L992.30,158.19L992.75,160.78L993.50,161.78L993.85,161.00L994.40,161.71L994.90,161.89L995.50,163.02L996.20,164.06L996.60,165.17L997.15,164.38L997.60,165.77L998.25,161.94L998.70,160.94L999.35,159.26L999.80,158.17L1000.45,158.01L1000.90,156.97L1001.55,158.63L1002.10,159.52L1002.40,159.45L1002.65,158.82L1003.20,158.63L1003.80,158.87L1004.30,158.74L1004.85,158.53L1005.20,160.58L1005.95,158.55L1006.50,157.51L1007.05,157.31L1007.60,158.07L1008.00,159.04L1008.70,159.16L1009.10,158.22L1009.80,162.73L1010.20,163.30L1010.90,167.04L1011.30,166.42L1012.10,175.18L1012.55,177.17L1013.10,179.07L1013.50,180.70L1014.20,179.24L1014.70,178.16L1015.30,173.24L1015.80,170.80L1016.40,169.22L1016.95,170.63L1017.20,170.84L1017.50,170.37L1018.05,169.38L1018.60,168.94L1019.15,169.35L1019.70,168.50L1020.25,167.05L1020.80,167.36L1021.35,170.16L1021.90,173.97L1022.45,173.63L1023.00,172.51L1023.55,170.23L1024.10,168.37L1024.65,169.82L1025.20,166.98L1025.50,166.34L1025.75,166.65L1026.30,166.89L1026.90,168.02L1027.40,169.08L1027.95,167.34L1028.40,167.89L1029.05,170.36L1029.50,172.60L1030.15,174.67L1030.80,177.40L1031.25,175.13L1031.90,174.68L1032.35,174.74L1032.90,174.37L1033.30,172.24L1034.00,171.16L1034.70,169.22L1035.10,169.67L1035.65,171.15L1035.90,173.02L1036.20,172.98L1036.75,172.01L1037.30,171.63L1037.85,170.69L1038.60,170.65L1038.95,170.01L1039.50,169.32L1040.00,167.99L1040.60,168.30L1041.15,168.68L1041.40,168.47L1041.70,170.65L1042.25,170.37L1042.50,170.24L1042.80,170.69L1043.35,168.92L1043.70,165.64L1044.45,165.94L1045.10,165.84L1045.55,167.22L1046.20,167.77L1046.65,165.68L1047.10,162.41L1047.75,159.67L1048.10,159.11L1048.85,158.37L1049.50,156.36L1049.95,156.15L1050.50,155.77L1051.05,155.71L1051.50,155.71L1052.15,154.92L1052.70,153.72L1053.00,155.09L1053.25,156.12L1053.80,155.61L1054.50,156.71L1054.90,155.72L1055.45,154.78L1055.70,154.21L1056.00,153.84L1056.55,155.61L1056.90,156.86L1057.65,153.98L1057.90,155.15L1058.20,156.39L1058.75,157.45L1059.20,158.42L1059.85,156.00L1060.30,153.81L1060.95,155.04L1061.30,155.66L1062.05,154.50L1062.30,154.10" fill="none" stroke="#5092f8" stroke-width="2" stroke-linejoin="round"/>
<path d="M105.60,401.80L106.15,402.27L106.70,400.60L107.25,401.08L107.80,400.09L108.40,399.42L108.90,400.57L109.45,399.53L110.00,398.82L110.60,398.87L111.10,397.61L111.70,394.92L112.20,395.05L112.75,393.95L113.30,393.94L113.85,393.84L114.50,393.11L114.95,393.07L115.50,393.24L116.05,394.51L116.70,395.32L117.15,396.96L117.70,399.21L118.40,400.84L118.80,402.59L119.35,404.63L119.90,406.76L120.30,407.00L121.00,404.37L121.55,401.18L121.80,400.90L122.10,397.88L122.65,394.29L122.90,394.40L123.20,392.21L123.75,392.78L124.00,392.54L124.30,392.93L124.85,394.74L125.10,395.57L125.40,395.77L125.95,394.60L126.50,393.67L126.80,393.25L127.05,393.08L127.60,393.98L128.15,394.00L128.50,395.41L129.25,392.71L129.80,391.91L130.35,391.22L130.70,389.96L131.45,391.53L132.00,388.70L132.55,388.74L132.90,388.39L133.65,390.69L134.20,389.24L134.60,391.08L135.30,389.95L135.85,389.80L136.30,389.25L136.95,388.58L137.40,386.59L138.05,385.74L138.60,385.11L139.10,385.34L139.70,381.51L140.25,382.20L140.70,381.49L141.35,379.50L141.90,378.83L142.40,377.55L143.00,378.62L143.55,377.85L144.10,377.13L144.65,376.11L145.20,375.23L145.80,374.31L146.30,372.05L146.90,371.80L147.40,368.38L147.95,365.01L148.20,366.12L148.50,367.28L149.05,368.88L149.70,369.89L150.15,370.17L150.70,370.87L151.30,371.84L151.80,370.22L152.35,369.09L153.00,369.56L153.45,369.56L154.00,368.89L154.70,371.48L155.10,371.98L155.65,372.14L156.40,373.06L156.75,372.85L157.30,370.81L158.00,368.55L158.40,367.72L158.95,367.43L159.70,367.70L160.05,368.31L160.80,370.04L161.15,370.52L161.70,369.43L162.25,368.90L162.50,368.86L162.80,368.55L163.35,369.19L163.90,370.07L164.20,369.79L164.45,371.47L165.00,373.83L165.55,374.79L165.80,375.00L166.10,374.98L166.65,374.83L167.20,374.95L167.75,375.47L168.10,375.42L168.85,375.84L169.40,375.28L169.80,376.49L170.50,375.61L171.05,374.00L171.60,372.10L172.00,372.73L172.70,374.84L173.25,374.69L173.70,375.15L174.35,374.72L174.90,375.26L175.45,374.18L175.90,375.00L176.55,374.28L177.10,374.81L177.65,374.27L178.10,373.82L178.75,372.58L179.30,372.57L179.85,372.72L180.60,373.19L180.95,372.72L181.50,371.34L182.05,371.17L182.30,371.44L182.60,370.56L183.15,369.60L183.70,368.94L184.00,369.44L184.25,370.10L184.80,370.37L185.35,372.20L185.70,372.60L186.45,373.63L187.00,375.91L187.55,377.06L187.90,376.67L188.65,377.30L189.20,377.99L189.75,377.63L190.30,378.07L190.70,378.90L191.40,376.50L191.95,376.75L192.50,376.67L192.90,376.21L193.60,375.89L194.15,377.35L194.60,377.38L195.25,376.46L195.80,375.31L196.30,373.82L196.90,372.85L197.45,372.51L197.90,373.30L198.55,372.87L199.10,373.92L199.60,374.52L200.20,372.30L200.75,372.41L201.30,369.78L201.90,369.12L202.40,365.82L203.00,363.85L203.50,365.47L204.10,365.56L204.60,364.07L205.15,363.00L205.80,360.45L206.25,359.00L206.80,356.57L207.40,354.58L207.90,354.71L208.45,353.56L209.10,352.63L209.55,351.35L210.10,350.59L210.65,350.25L211.30,349.28L211.75,349.27L212.30,346.88L213.00,346.81L213.40,344.54L214.10,344.05L214.50,344.10L215.20,347.24L215.60,346.78L216.15,346.92L216.90,347.38L217.25,346.04L217.80,344.73L218.35,343.12L218.60,344.76L218.90,343.91L219.45,343.40L220.00,343.38L220.30,344.72L220.55,342.56L221.10,343.01L221.65,342.59L221.90,343.06L222.20,341.93L222.75,342.96L223.30,344.55L223.60,345.71L223.85,346.36L224.40,345.46L224.95,346.24L225.50,346.85L225.80,346.31L226.05,346.43L226.60,348.91L227.15,350.11L227.50,350.57L228.25,352.45L228.80,351.95L229.20,353.13L229.90,354.39L230.30,355.09L231.00,354.74L231.55,354.09L232.10,353.57L232.50,353.18L233.20,354.56L233.75,353.56L234.20,354.21L234.85,355.83L235.40,356.58L235.90,358.46L236.50,357.67L237.05,358.91L237.60,358.07L238.15,356.81L238.70,356.20L239.20,355.71L240.00,353.75L240.35,353.72L240.90,352.81L241.45,351.87L241.70,352.57L242.00,353.29L242.55,353.58L243.30,356.18L243.65,356.36L244.20,356.04L244.75,357.26L245.00,356.51L245.30,355.98L245.85,355.96L246.40,353.99L246.70,354.24L246.95,353.78L247.50,355.54L248.05,355.49L248.40,356.27L249.15,354.44L249.70,354.31L250.00,355.05L250.25,355.14L250.80,353.69L251.35,355.21L251.90,355.81L252.30,355.19L253.00,355.73L253.55,354.00L254.00,353.90L254.65,353.23L255.20,352.34L255.60,351.50L256.30,349.40L256.85,347.96L257.30,348.80L257.95,348.16L258.50,348.96L259.00,348.54L259.60,350.61L260.15,351.51L260.60,351.93L261.25,351.30L261.80,350.99L262.30,350.53L262.90,351.69L263.45,352.44L264.00,353.31L264.55,352.58L265.10,353.85L265.70,353.04L266.20,353.95L266.75,354.47L267.30,353.36L267.85,350.48L268.50,350.05L268.95,348.78L269.50,348.05L269.90,347.22L270.60,348.02L271.20,347.68L271.70,349.06L272.40,350.25L272.80,350.41L273.35,348.71L274.00,350.18L274.45,350.72L275.00,349.72L275.70,350.39L276.10,350.80L276.65,351.16L277.20,350.67L277.90,351.21L278.30,350.00L278.85,348.28L279.10,347.83L279.40,348.47L279.95,347.27L280.70,347.27L281.05,347.50L281.60,347.07L281.90,347.16L282.15,348.67L282.40,350.77L282.70,350.50L283.25,350.69L283.80,350.31L284.10,350.96L284.35,350.68L284.90,350.20L285.45,351.03L285.80,351.49L286.55,351.64L287.10,353.09L287.40,353.37L287.65,354.21L288.20,354.71L288.75,355.31L289.10,357.42L289.85,358.86L290.40,360.13L290.80,360.70L291.50,360.56L292.05,359.12L292.50,359.03L293.15,357.61L293.70,355.90L294.10,356.47L294.80,356.76L295.35,354.05L295.80,354.49L296.45,352.69L297.00,351.72L297.50,351.19L298.10,350.42L298.65,348.76L299.20,348.36L299.75,348.38L300.30,348.42L300.80,347.11L301.40,348.17L301.95,348.67L302.50,349.08L303.05,346.11L303.60,345.77L304.20,343.82L304.70,344.57L305.25,344.70L305.80,343.31L306.35,342.84L306.90,344.05L307.50,344.92L308.00,344.04L308.55,344.01L309.20,342.31L309.65,343.74L310.20,345.44L310.50,346.20L310.75,346.58L311.30,343.44L312.00,340.08L312.40,341.30L312.95,340.78L313.70,340.92L314.05,341.37L314.60,341.39L315.30,341.92L315.70,341.53L316.25,338.73L317.00,338.12L317.35,338.81L318.10,335.77L318.45,336.45L319.00,336.10L319.55,335.84L320.00,337.23L320.60,337.39L321.20,336.10L321.75,336.22L322.20,334.53L322.85,333.58L323.40,333.95L323.90,333.06L324.50,332.60L325.05,333.72L325.60,334.26L326.15,333.89L326.70,332.82L327.25,331.61L327.80,330.81L328.40,330.50L328.90,329.47L329.50,329.44L330.00,330.67L330.60,331.55L331.10,331.20L331.65,330.88L332.30,331.87L332.75,331.68L333.40,332.56L333.85,334.04L334.30,337.22L335.10,340.97L335.50,340.15L336.20,340.10L336.60,342.41L337.20,355.38L337.70,356.26L338.25,355.67L338.80,355.74L339.50,356.53L339.90,359.12L340.60,365.08L341.00,367.17L341.55,369.28L341.90,371.50L342.65,368.46L343.10,366.14L343.75,366.17L344.30,367.77L344.70,369.12L345.40,378.43L345.80,383.91L346.50,386.20L347.05,387.29L347.30,387.43L347.60,384.35L348.10,375.74L348.70,374.37L349.25,373.27L349.70,372.24L350.35,373.32L350.90,374.62L351.20,375.79L351.45,375.18L352.00,373.84L352.55,371.95L353.10,371.59L353.65,372.37L354.20,374.04L354.70,376.07L355.30,375.33L355.85,374.49L356.40,373.51L356.95,373.37L357.50,373.11L358.05,373.00L358.60,373.62L359.10,375.11L359.70,376.03L360.30,378.73L360.80,379.57L361.35,382.67L361.90,383.97L362.45,383.43L363.00,382.86L363.55,382.28L363.80,382.03L364.10,380.51L364.65,380.98L365.20,381.14L365.75,379.55L366.10,380.47L366.85,382.59L367.40,382.50L367.70,383.47L367.95,384.83L368.50,387.31L369.20,391.19L369.60,392.49L370.30,396.84L370.70,398.24L371.25,400.04L371.80,401.04L372.30,401.90L372.90,400.69L373.45,397.39L373.90,397.52L374.55,396.29L375.10,394.76L375.65,394.32L376.20,392.70L376.75,391.53L377.30,391.87L377.85,391.20L378.60,391.31L378.95,389.70L379.50,387.81L380.20,386.15L380.60,386.56L381.15,384.03L381.70,381.38L382.25,381.72L382.80,382.30L383.30,383.62L383.90,386.39L384.45,389.09L384.80,390.60L385.55,389.61L386.10,388.43L386.65,387.65L387.20,386.14L387.75,386.06L388.30,386.67L388.85,385.98L389.50,385.75L389.95,383.98L390.50,384.29L391.05,383.40L391.60,382.33L391.90,382.03L392.15,380.20L392.70,380.63L393.25,380.46L393.80,382.23L394.20,381.40L394.90,381.06L395.45,381.96L396.00,381.01L396.60,382.50L397.10,382.52L397.65,383.75L398.10,384.12L398.75,385.40L399.30,383.90L400.00,385.59L400.40,385.22L401.00,385.93L401.50,387.24L402.00,389.96L402.60,391.68L403.00,393.04L403.70,391.22L404.20,390.17L404.80,390.03L405.50,388.64L405.90,388.71L406.45,389.61L406.80,391.66L407.55,391.67L408.00,392.75L408.65,394.96L409.00,395.48L409.75,397.54L410.10,399.11L410.85,399.13L411.10,398.58L411.40,398.81L412.10,401.05L412.50,399.85L413.05,398.99L413.60,398.94L414.15,399.10L414.70,399.46L415.10,399.26L415.80,398.57L416.35,398.68L416.60,398.68L416.90,399.24L417.45,398.97L418.10,399.77L418.55,399.84L419.10,399.46L419.60,399.57L420.20,401.53L420.60,402.14L421.30,402.14L421.85,401.51L422.10,402.22L422.40,402.18L422.95,402.08L423.60,401.74L424.05,402.36L424.60,403.78L425.10,402.65L425.70,401.89L426.25,401.76L426.60,400.94L427.35,401.68L428.10,401.73L428.45,401.40L429.00,401.67L429.60,401.54L430.10,402.19L430.70,402.63L431.40,409.19L431.75,409.53L432.20,411.97L432.85,411.68L433.40,411.89L433.70,412.53L433.95,412.53L434.50,411.14L435.20,411.28L435.60,410.31L436.00,407.98L436.70,404.66L437.00,404.97L437.25,405.62L437.80,406.57L438.20,406.83L438.90,405.67L439.40,404.92L440.00,405.51L440.70,404.90L441.10,405.63L441.70,406.14L442.20,406.22L442.70,404.84L443.30,404.34L444.00,401.42L444.40,402.76L444.95,403.33L445.20,403.32L445.50,404.84L446.05,405.31L446.40,405.29L447.15,403.13L447.70,403.40L448.25,404.79L448.70,405.99L449.35,406.10L450.10,408.52L450.45,408.09L451.00,407.00L451.30,406.64L451.55,405.29L452.10,405.95L452.80,404.45L453.20,405.43L453.75,404.77L454.30,404.32L454.80,404.78L455.60,399.28L455.95,397.37L456.30,396.79L457.05,396.17L457.80,394.54L458.15,392.97L458.70,392.36L459.10,391.25L459.80,390.93L460.30,391.09L460.90,391.91L461.45,392.49L461.80,391.88L462.55,393.42L463.30,393.90L463.65,393.63L464.20,393.78L464.80,394.94L465.30,393.34L465.85,392.68L466.30,394.19L466.95,394.45L467.50,396.42L467.80,395.67L468.05,395.36L468.60,395.71L469.30,395.38L469.70,394.93L470.25,394.53L470.90,393.69L471.35,392.88L471.90,392.36L472.45,390.93L472.90,388.87L473.55,387.52L474.10,386.82L474.40,386.79L474.65,387.00L475.20,385.85L475.90,385.14L476.30,385.08L476.85,386.37L477.40,384.93L477.95,383.35L478.40,379.94L479.05,381.16L479.60,380.12L480.00,380.05L480.70,380.99L481.00,381.72L481.25,382.40L481.80,383.35L482.20,383.84L482.90,385.20L483.20,387.93L483.45,385.55L484.20,380.87L484.55,381.45L485.10,380.53L485.50,379.74L486.20,379.75L486.75,380.96L487.00,379.37L487.30,379.73L487.85,381.92L488.20,381.63L488.95,381.47L489.50,382.51L490.05,381.34L490.60,380.97L490.90,381.10L491.15,379.65L491.70,379.57L492.10,378.65L492.80,378.65L493.35,379.42L493.60,379.88L493.90,379.45L494.45,378.67L495.10,379.06L495.55,379.05L496.10,378.19L496.60,377.09L497.20,376.51L497.75,376.63L498.10,376.55L498.85,376.38L499.60,376.16L499.95,376.19L500.50,375.27L501.10,374.43L501.60,373.21L502.30,371.21L502.70,371.40L503.25,371.91L503.60,370.54L504.35,373.18L504.90,371.64L505.45,374.88L505.90,378.00L506.55,379.14L507.10,380.49L507.65,382.25L508.20,380.90L508.60,381.65L509.30,380.35L509.60,380.21L509.85,378.52L510.40,378.53L510.70,376.54L510.95,375.58L511.50,376.78L512.20,375.24L512.60,374.71L513.15,373.73L513.70,372.55L514.25,371.37L514.80,371.46L515.20,372.53L515.90,370.82L516.20,369.70L516.45,370.62L517.20,370.22L517.55,371.60L518.20,371.38L518.65,367.92L519.20,365.40L519.75,365.34L520.30,364.58L520.70,364.62L521.40,368.09L521.70,369.83L521.95,369.19L522.70,369.72L523.05,372.77L523.60,372.72L524.00,372.84L524.70,372.14L525.20,370.88L525.80,372.24L526.40,371.46L526.90,370.80L527.20,369.60L527.45,371.81L528.20,372.68L528.55,374.26L529.20,376.34L529.65,373.84L530.20,372.89L530.50,373.00L530.75,372.39L531.30,371.34L531.80,371.17L532.40,371.90L533.10,371.48L533.50,370.75L534.05,370.31L534.50,369.39L535.15,371.30L535.80,372.39L536.25,372.72L536.80,370.28L537.35,369.08L538.10,367.16L538.45,367.90L539.00,369.10L539.30,369.07L539.55,368.93L540.30,367.46L540.65,366.74L541.20,366.18L541.50,365.68L541.75,365.42L542.30,366.75L542.80,365.60L543.40,367.37L543.80,368.91L544.50,369.28L545.05,368.79L545.30,368.65L545.60,370.45L546.15,369.48L546.80,369.97L547.25,370.28L547.80,369.95L548.30,368.43L548.90,368.17L549.30,369.42L550.20,362.23L550.55,362.45L551.10,362.67L551.70,362.68L552.20,362.48L552.75,362.76L553.30,365.23L553.85,366.07L554.40,366.87L555.00,367.58L555.50,370.31L556.05,370.94L556.70,372.44L557.15,375.88L557.70,378.89L558.00,380.67L558.25,381.21L558.80,383.49L559.20,387.03L560.00,398.18L560.45,389.69L560.90,382.27L561.55,380.74L562.00,378.71L562.65,379.07L563.20,378.49L563.70,377.85L564.30,378.68L564.85,376.93L565.40,378.09L565.95,378.22L566.70,375.68L567.05,375.65L567.60,374.90L568.10,373.41L568.70,370.86L569.20,368.49L569.80,368.78L570.35,368.29L570.90,366.84L571.45,365.68L572.10,362.51L572.55,360.88L573.10,360.99L573.40,361.68L573.65,357.48L574.20,352.94L574.80,347.87L575.30,348.24L575.90,347.46L576.40,348.55L576.95,352.26L577.60,354.26L578.05,354.34L578.60,355.07L579.30,352.70L579.70,353.17L580.25,355.11L580.90,356.02L581.35,357.21L581.90,358.04L582.60,361.31L583.00,360.18L583.55,359.30L584.10,358.59L584.65,358.29L585.10,356.59L585.75,357.36L586.30,358.50L586.80,357.68L587.40,356.41L587.95,354.87L588.50,352.99L589.05,355.55L589.60,355.56L590.15,355.66L590.70,355.26L591.00,355.84L591.25,355.80L591.80,356.18L592.35,356.72L592.70,358.59L593.45,354.89L593.80,353.44L594.55,354.42L595.10,356.22L595.50,354.72L596.20,352.48L596.75,352.27L597.20,351.84L597.85,351.45L598.40,350.69L598.80,351.24L599.50,353.08L600.20,353.22L600.60,350.85L601.15,349.15L601.50,346.79L602.25,346.13L602.80,346.24L603.20,344.36L603.90,341.73L604.50,336.90L605.00,336.57L605.55,335.89L606.00,335.42L606.65,337.43L607.20,341.90L607.70,344.14L608.30,343.63L608.85,345.30L609.40,342.65L609.90,343.00L610.50,343.39L611.05,342.99L611.60,345.72L611.90,344.37L612.15,346.54L612.70,350.10L613.20,353.50L613.80,353.98L614.35,356.44L614.90,357.24L615.45,357.58L616.10,358.99L616.55,359.20L617.10,357.66L617.70,357.60L618.20,357.60L618.75,356.78L619.40,355.34L619.85,353.47L620.60,351.46L620.95,350.93L621.50,352.00L622.05,350.43L622.30,350.41L622.60,351.30L623.15,352.13L623.90,353.72L624.25,354.74L624.80,354.91L625.35,355.84L625.60,355.76L625.90,360.02L626.60,365.70L627.00,367.57L627.55,367.26L627.80,369.13L628.10,369.40L628.65,370.94L629.00,371.37L629.75,369.04L630.00,368.80L630.30,369.82L630.85,370.53L631.40,369.80L632.00,370.83L632.50,369.19L633.05,368.93L633.70,367.13L634.15,367.06L634.70,366.96L635.40,363.84L635.80,364.22L636.35,362.27L637.00,361.93L637.45,364.90L638.00,364.60L638.70,365.64L639.10,364.15L639.65,364.76L640.20,364.44L640.90,365.72L641.30,363.90L641.85,364.34L642.50,360.74L642.95,359.97L643.50,357.09L644.20,355.95L644.60,358.13L645.15,358.81L645.40,358.34L645.70,360.61L646.25,363.74L646.70,365.65L647.35,368.68L648.10,370.22L648.45,371.77L649.00,371.32L649.70,368.93L650.10,371.41L650.65,371.04L651.40,372.16L651.75,371.22L652.30,372.67L652.85,373.03L653.10,375.14L653.40,376.63L653.95,379.15L654.30,381.30L655.05,382.83L655.60,382.20L655.90,382.99L656.15,383.18L656.70,385.15L657.10,387.66L657.80,392.70L658.10,395.15L658.35,400.31L658.80,407.64L659.45,399.30L659.80,395.64L660.55,394.48L661.10,393.29L661.40,392.91L661.65,391.73L662.20,393.36L662.75,393.89L663.10,395.25L663.85,399.00L664.30,399.15L664.95,402.09L665.50,402.87L666.00,404.15L666.60,403.35L667.15,403.53L667.60,402.36L668.25,399.52L668.80,399.41L669.30,398.28L669.90,401.83L670.45,404.73L671.00,406.25L671.55,407.91L672.10,409.16L672.70,410.27L673.20,407.68L673.80,404.64L674.30,401.42L674.85,398.56L675.20,397.51L675.95,392.51L676.50,389.96L677.05,389.11L677.60,388.60L678.20,388.65L678.70,391.11L679.30,394.53L679.80,391.97L680.50,390.03L680.90,391.97L681.50,394.67L682.00,388.49L682.70,384.56L683.10,384.80L683.65,383.91L684.40,384.12L684.75,385.64L685.30,384.79L686.00,385.48L686.40,384.79L686.95,380.94L687.20,379.89L687.50,381.12L688.05,382.45L688.60,383.46L688.90,383.60L689.15,384.13L689.70,382.05L690.20,379.53L690.80,380.08L691.35,381.03L691.90,381.37L692.45,377.61L693.00,376.51L693.60,373.69L694.10,374.15L694.65,375.62L695.20,375.14L695.60,374.71L696.30,375.71L696.85,376.06L697.40,378.49L697.70,378.62L697.95,379.82L698.50,381.40L698.90,383.01L699.60,386.01L700.30,386.98L700.70,391.27L701.25,393.81L701.60,396.68L702.35,401.75L702.80,403.90L703.45,399.04L703.90,395.72L704.55,395.55L705.30,393.50L705.65,394.71L706.20,394.75L706.60,394.57L707.30,394.36L707.85,393.02L708.30,392.76L708.95,393.46L709.50,394.22L710.00,394.03L710.60,392.36L711.15,393.54L711.60,393.03L712.25,396.67L712.80,399.60L713.35,400.94L713.90,401.60L714.50,402.48L715.00,402.81L715.55,404.91L716.10,405.11L716.70,406.46L717.20,404.52L717.75,403.06L718.30,400.01L718.85,399.38L719.40,398.85L720.00,397.95L720.50,395.49L721.05,392.48L721.40,392.05L722.15,395.79L722.50,395.70L723.25,397.18L723.80,396.65L724.20,396.90L724.90,399.96L725.45,402.54L725.90,404.69L726.55,401.20L727.00,399.74L727.65,398.73L728.20,397.18L728.70,397.38L729.30,395.22L729.85,393.59L730.10,394.22L730.40,392.09L730.95,392.22L731.40,395.64L732.05,391.64L732.60,389.35L733.15,387.13L733.70,384.54L734.25,383.77L734.80,381.96L735.40,382.11L735.90,383.41L736.45,384.52L736.70,383.90L737.00,380.54L737.55,377.02L737.80,374.93L738.10,378.38L738.80,383.13L739.20,381.18L739.75,379.12L740.10,377.80L740.85,377.38L741.40,376.15L741.80,376.03L742.50,379.76L743.05,381.13L743.40,380.79L744.15,380.05L744.70,377.52L745.10,376.11L745.80,376.82L746.35,379.29L746.80,379.67L747.45,380.02L748.00,379.88L748.50,379.88L749.10,378.01L749.80,375.01L750.20,374.48L750.75,370.87L751.00,369.74L751.30,370.81L751.85,371.29L752.60,370.69L752.95,370.88L753.50,369.08L753.80,368.45L754.05,368.77L754.60,370.49L755.10,370.91L755.70,369.87L756.25,369.91L756.80,368.92L757.35,371.46L757.90,374.61L758.20,375.59L758.45,376.51L759.00,376.77L759.30,378.45L759.55,379.69L760.10,379.15L760.65,379.54L761.00,380.12L761.75,378.20L762.30,377.53L762.70,376.52L763.40,378.99L763.95,382.01L764.30,382.72L765.05,381.46L765.60,381.45L766.00,381.45L766.70,380.35L767.25,379.01L767.70,378.68L768.35,379.47L768.90,380.19L769.45,381.33L769.90,380.47L770.55,378.73L771.10,376.11L771.50,377.16L772.20,374.64L772.70,372.07L773.30,372.88L773.85,372.67L774.40,375.82L774.95,375.09L775.50,376.25L776.10,375.92L776.60,374.72L777.15,372.13L777.70,371.04L778.25,369.70L778.80,371.40L779.40,371.15L779.90,365.99L780.60,360.36L781.00,359.78L781.55,360.19L781.90,359.55L782.65,360.35L783.30,361.97L783.75,360.55L784.30,358.92L784.90,357.18L785.40,357.35L785.95,356.51L786.50,356.79L786.90,353.85L787.60,355.27L788.15,356.76L788.60,355.95L789.25,356.52L789.80,357.14L790.35,356.25L791.10,356.82L791.45,358.42L792.00,359.17L792.55,361.42L792.80,362.90L793.10,361.69L793.65,360.72L794.20,361.33L794.50,361.22L794.75,359.63L795.30,358.11L795.85,356.23L796.10,355.45L796.40,355.26L796.95,353.62L797.30,352.00L798.05,351.56L798.60,352.03L799.15,352.01L799.50,352.19L800.00,351.49L800.25,350.38L800.80,353.95L801.20,354.71L801.90,355.80L802.45,357.00L802.70,357.49L803.00,357.12L803.55,357.94L804.30,356.83L804.65,357.65L805.20,358.31L805.90,360.45L806.30,360.26L806.85,359.14L807.40,358.43L807.95,355.65L808.60,353.96L809.05,355.31L809.80,358.95L810.15,359.56L810.70,361.41L811.30,363.61L811.80,362.29L812.35,360.21L812.90,359.43L813.45,358.51L814.00,356.88L814.50,355.21L815.10,355.22L815.65,356.31L816.00,356.92L816.75,355.74L817.40,355.16L817.85,355.55L818.40,355.71L819.00,356.71L819.50,355.32L820.05,354.58L820.30,354.54L820.60,353.75L821.15,353.98L821.90,353.90L822.25,353.54L822.80,353.46L823.30,353.03L823.90,352.89L824.60,352.38L825.00,349.23L825.50,348.25L826.10,347.87L826.65,345.59L827.30,344.68L827.75,346.62L828.50,350.24L828.85,351.05L829.40,351.34L829.70,349.76L829.95,354.28L830.50,357.04L830.90,359.15L831.60,358.71L832.20,359.50L832.90,353.94L833.25,357.98L833.80,366.35L834.40,375.12L834.90,376.26L835.60,375.86L836.20,367.99L836.55,365.84L837.10,366.88L837.80,366.18L838.20,365.85L838.75,367.08L839.30,366.87L839.85,367.02L840.40,366.93L841.10,366.63L841.50,368.63L842.05,369.92L842.40,371.60L843.15,371.35L843.60,371.06L844.40,364.27L844.80,362.22L845.40,358.69L845.90,359.51L846.45,359.03L846.90,359.59L847.55,359.22L848.10,358.68L848.50,357.97L849.20,357.19L849.70,356.29L850.30,357.54L850.85,357.59L851.30,357.92L851.95,356.47L852.50,355.82L852.80,354.85L853.05,354.99L853.60,356.37L854.00,356.32L854.70,355.63L855.30,354.76L855.80,357.12L856.50,357.88L856.90,358.84L857.45,358.71L858.00,359.66L858.55,358.04L859.10,356.93L859.60,357.99L860.20,358.28L860.75,359.22L861.10,360.16L861.85,359.97L862.40,359.50L862.90,358.22L863.50,357.91L864.05,358.17L864.50,358.56L865.15,358.47L865.70,358.22L866.30,357.21L866.80,355.61L867.30,354.52L867.90,352.80L868.45,351.99L868.80,352.54L869.55,351.79L870.00,350.32L870.65,348.23L871.20,346.02L871.75,346.53L872.30,346.39L872.70,347.07L873.40,346.19L873.90,345.17L874.50,344.57L875.10,341.97L875.60,342.46L876.15,345.32L876.40,346.23L876.70,345.19L877.25,345.96L878.00,345.84L878.35,346.20L878.90,346.42L879.45,346.83L880.00,344.87L880.55,346.79L881.20,350.84L881.65,349.92L882.20,350.23L882.50,348.42L882.75,347.26L883.30,343.52L883.70,344.04L884.40,344.10L884.95,343.12L885.20,342.20L885.50,340.91L886.05,341.08L886.80,341.93L887.15,344.35L887.70,345.13L888.00,344.53L888.25,343.85L888.80,341.81L889.20,340.22L889.90,339.50L890.45,339.70L890.80,340.83L891.55,341.32L892.30,341.00L892.65,342.39L893.20,341.01L893.80,339.69L894.30,339.53L894.85,338.80L895.30,337.49L895.95,339.60L896.50,340.31L896.90,340.14L897.60,340.63L898.15,340.89L898.40,340.35L898.70,341.75L899.25,342.74L899.60,343.78L900.35,344.08L901.10,342.67L901.45,343.64L902.00,344.43L902.30,346.10L902.55,345.80L903.10,347.80L903.60,348.58L904.20,345.53L904.75,344.14L905.20,342.60L905.85,342.24L906.40,342.35L906.80,342.79L907.50,346.40L908.00,348.46L908.60,349.58L908.90,351.01L909.15,351.01L909.70,350.70L910.10,350.80L910.80,349.10L911.30,346.95L911.90,347.10L912.45,349.45L912.90,349.30L913.55,349.38L914.10,347.12L914.40,347.55L914.65,347.84L915.20,347.33L915.90,345.30L916.30,345.21L916.85,343.77L917.50,342.49L917.95,343.17L918.50,343.85L919.00,343.65L919.60,343.73L920.15,344.34L920.50,343.68L921.25,345.44L922.00,347.11L922.35,346.62L922.90,345.71L923.20,344.13L923.45,345.29L924.00,347.52L924.40,349.95L925.10,350.13L925.70,352.32L926.20,351.10L926.70,352.04L927.30,354.11L927.90,356.82L928.40,357.27L929.10,357.71L929.50,354.08L930.05,351.49L930.30,348.86L930.60,349.48L931.15,349.18L931.80,349.83L932.25,350.29L932.80,351.18L933.40,351.26L933.90,352.11L934.45,352.31L935.00,353.59L935.55,353.36L936.10,354.99L936.50,356.39L937.20,358.93L937.75,359.56L938.00,359.75L938.30,358.84L938.85,358.37L939.60,356.21L939.95,356.68L940.50,355.92L940.80,356.76L941.05,358.39L941.60,357.58L942.00,358.98L942.70,356.70L943.20,354.83L943.80,355.01L944.35,354.74L944.80,353.76L945.45,354.71L946.00,354.11L946.30,356.28L946.55,355.65L947.10,355.59L947.50,354.12L948.20,357.65L948.80,359.32L949.30,356.76L950.00,353.58L950.40,353.69L950.95,353.04L951.50,353.29L952.05,352.97L952.60,353.08L953.10,353.74L953.70,353.36L954.25,352.36L954.70,352.07L955.35,352.00L956.10,352.29L956.45,351.83L957.00,352.44L957.60,353.23L958.10,353.42L958.65,352.97L959.20,352.81L959.75,354.34L960.30,355.11L960.80,355.28L961.40,354.25L962.00,353.62L962.50,353.51L963.05,351.86L963.30,350.79L963.60,352.36L964.15,355.16L964.50,356.74L965.00,358.69L965.25,356.53L965.80,356.39L966.30,356.54L966.90,356.72L967.45,357.11L967.80,355.22L968.55,356.02L969.20,355.21L969.65,356.76L970.40,358.57L970.75,360.83L971.10,362.07L971.85,358.94L972.30,358.53L972.95,359.33L973.70,360.55L974.05,359.24L974.60,358.52L975.00,358.38L975.70,359.35L976.40,358.69L976.80,359.27L977.50,360.44L977.90,360.67L978.60,363.51L979.00,363.73L979.50,367.76L980.10,364.55L980.60,362.23L981.20,361.23L981.70,360.14L982.30,360.48L982.85,360.80L983.10,360.68L983.40,361.16L983.95,361.48L984.50,360.82L985.05,361.42L985.60,361.06L986.00,361.76L986.70,360.06L987.30,358.16L987.80,358.56L988.35,358.36L988.70,357.88L989.45,358.51L990.10,359.30L990.55,357.74L991.10,357.26L991.60,357.53L992.20,356.60L992.90,356.18L993.30,357.99L993.85,356.63L994.20,357.48L994.95,356.86L995.70,357.73L996.05,357.75L996.60,356.67L997.15,358.24L997.40,358.08L997.70,357.39L998.30,356.76L998.80,355.39L999.40,352.85L999.90,352.21L1000.45,352.65L1000.90,350.77L1001.55,351.37L1002.10,352.90L1002.40,352.36L1002.65,353.07L1003.20,354.60L1003.50,354.51L1003.75,354.48L1004.30,353.69L1004.90,353.58L1005.40,354.11L1005.95,354.16L1006.50,354.38L1007.05,354.34L1007.60,354.50L1008.00,353.19L1008.70,354.30L1009.40,356.16L1009.80,355.83L1010.35,356.23L1010.70,356.76L1011.45,355.22L1011.90,355.31L1012.55,356.57L1013.20,357.80L1013.65,358.71L1014.20,359.64L1014.70,358.37L1015.30,357.50L1015.80,356.91L1016.40,354.65L1016.90,354.58L1017.50,355.32L1018.05,354.27L1018.30,354.16L1018.60,351.79L1019.15,351.72L1019.70,350.86L1020.25,352.53L1021.00,352.86L1021.35,353.62L1022.10,355.89L1022.45,356.37L1023.00,357.32L1023.60,357.63L1024.10,356.74L1024.65,354.19L1025.00,355.11L1025.75,355.37L1026.40,354.63L1026.85,355.27L1027.40,355.12L1027.70,355.15L1027.95,356.26L1028.50,355.66L1028.80,356.99L1029.05,357.42L1029.60,355.42L1030.30,355.91L1030.70,355.10L1031.40,355.02L1031.80,354.40L1032.20,352.45L1032.90,350.52L1033.60,350.32L1034.00,351.21L1034.55,350.50L1035.10,350.16L1035.65,351.85L1036.20,353.34L1036.75,354.60L1037.30,355.98L1037.85,355.67L1038.40,355.36L1038.95,353.58L1039.50,355.38L1040.05,355.48L1040.70,353.60L1041.15,355.83L1041.70,355.41L1042.00,357.20L1042.25,358.99L1042.90,361.62L1043.35,357.04L1043.90,355.83L1044.20,354.26L1044.45,355.97L1045.00,358.91L1045.30,359.63L1045.55,360.26L1046.10,357.97L1046.70,357.57L1047.20,359.13L1047.75,361.56L1048.10,363.23L1048.85,360.54L1049.20,359.36L1049.95,362.21L1050.40,362.10L1051.05,364.67L1051.50,365.17L1052.15,366.46L1052.60,368.76L1053.25,365.68L1053.70,364.13L1054.35,361.83L1054.80,361.41L1055.45,361.52L1056.00,360.53L1056.30,358.68L1056.55,359.91L1057.10,362.22L1057.40,361.52L1057.65,361.60L1058.20,361.08L1058.70,361.14L1059.30,364.21L1059.60,365.54L1059.85,367.20L1060.40,368.33L1060.70,367.45L1060.95,367.73L1061.50,368.05L1061.90,369.00" fill="none" stroke="#00228c" stroke-width="2.1" stroke-linejoin="round"/>
<g fill="#000" shape-rendering="crispEdges">
<rect x="105" y="153" width="1" height="261"/>
<rect x="99" y="153" width="7" height="1"/>
<rect x="99" y="413" width="965" height="1"/>
<rect x="105" y="413" width="1" height="6"/>
<rect x="1063" y="413" width="1" height="6"/>
</g>
<g fill="#cccccc" shape-rendering="crispEdges">
<rect x="105" y="157" width="958" height="1"/>
<rect x="105" y="217" width="958" height="1"/>
<rect x="105" y="277" width="958" height="1"/>
<rect x="105" y="337" width="958" height="1"/>
<rect x="105" y="397" width="958" height="1"/>
<rect x="135" y="153" width="1" height="260"/>
<rect x="279" y="153" width="1" height="260"/>
<rect x="423" y="153" width="1" height="260"/>
<rect x="566" y="153" width="1" height="260"/>
<rect x="710" y="153" width="1" height="260"/>
<rect x="854" y="153" width="1" height="260"/>
<rect x="998" y="153" width="1" height="260"/>
</g>
<g fill="#000" font-family="'Liberation Sans', sans-serif" font-size="10.5px">
<text x="78.5" y="159.75" textLength="17.5" lengthAdjust="spacing">180</text>
<text x="78.5" y="220.8" textLength="17.5" lengthAdjust="spacing">160</text>
<text x="78.5" y="280.8" textLength="17.5" lengthAdjust="spacing">140</text>
<text x="78.5" y="340.8" textLength="17.5" lengthAdjust="spacing">120</text>
<text x="78.5" y="400.8" textLength="17.5" lengthAdjust="spacing">100</text>
<text x="118.5" y="427" textLength="23.5" lengthAdjust="spacing">2012</text>
<text x="263.5" y="427" textLength="23.5" lengthAdjust="spacing">2013</text>
<text x="406.5" y="427" textLength="23.5" lengthAdjust="spacing">2014</text>
<text x="550.5" y="427" textLength="23.5" lengthAdjust="spacing">2015</text>
<text x="694.5" y="427" textLength="23.5" lengthAdjust="spacing">2016</text>
<text x="838.5" y="427" textLength="23.5" lengthAdjust="spacing">2017</text>
<text x="982.5" y="427" textLength="23.5" lengthAdjust="spacing">2018</text>
</g>
</svg>
</body></html>
